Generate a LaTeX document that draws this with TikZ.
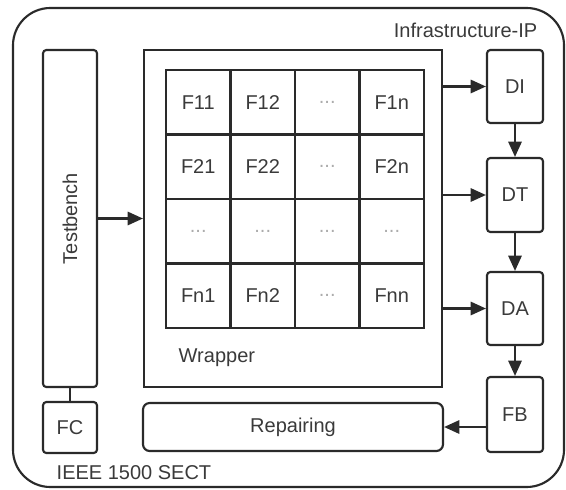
\documentclass[tikz,border=0pt]{standalone}
\usepackage{fontspec}
\setmainfont{Liberation Sans}
\usetikzlibrary{arrows.meta}
\definecolor{ln}{HTML}{2A2A2A}
\definecolor{tx}{HTML}{3A3A3A}
\newcommand{\celldots}{...}
\begin{document}
\begin{tikzpicture}[x=0.75pt,y=-0.75pt,
  every node/.style={font=\fontsize{15}{18}\selectfont, text=tx},
  blk/.style={draw=ln, line width=1.6pt, rounded corners=2.5pt, inner sep=0pt},
  cell/.style={draw=ln, line width=1.6pt, minimum width=48.375pt, minimum height=48.375pt, inner sep=0pt},
  arr/.style={draw=ln, line width=1.6pt, -{Triangle[length=11.5pt,width=10pt]}},
  conn/.style={draw=ln, line width=1.6pt},
  dotty/.style={text=gray!65}]
\useasboundingbox (0,0) rectangle (566,489);
% outer Infrastructure-IP
\node[blk, rounded corners=28pt, minimum width=413.25pt, minimum height=359.25pt] (ip) at (288.5,247.5) {};
\node[anchor=east] (iplab) at (542,30) {Infrastructure-IP};
\node[anchor=west] (sect) at (52,473) {IEEE 1500 SECT};
% Testbench and FC
\node[blk, minimum width=40.5pt, minimum height=252.75pt] (tb) at (70,218.5) {};
\node[rotate=90] (tblab) at (tb.center) {Testbench};
\node[blk, minimum width=40.5pt, minimum height=38.25pt] (fc) at (70,427.5) {FC};
% Wrapper
\node[blk, rounded corners=0pt, minimum width=223.5pt, minimum height=252.75pt] (wr) at (293,218.5) {};
\node[anchor=west] (wrlab) at (174,358) {Wrapper};
% grid
\foreach \r/\y/\a/\b/\d in {1/102.25/F11/F12/F1n, 2/166.75/F21/F22/F2n, 4/295.75/Fn1/Fn2/Fnn}{
  \node[cell] (c\r1) at (198.25,\y) {\a};
  \node[cell] (c\r2) at (262.75,\y) {\b};
  \node[cell, dotty] (c\r3) at (327.25,\y) {\celldots};
  \node[cell] (c\r4) at (391.75,\y) {\d};
}
\foreach \i/\x in {1/198.25,2/262.75,3/327.25,4/391.75}{
  \node[cell, dotty] (c3\i) at (\x,231.25) {\celldots};
}
% Repairing
\node[blk, rounded corners=5pt, minimum width=225pt, minimum height=36pt] (rep) at (293,427) {Repairing};
% right column
\node[blk, minimum width=42pt, minimum height=54.75pt] (di) at (515,86.5) {DI};
\node[blk, minimum width=42pt, minimum height=55.5pt] (dt) at (515,195) {DT};
\node[blk, minimum width=42pt, minimum height=54.75pt] (da) at (515,308.5) {DA};
\node[blk, minimum width=42pt, minimum height=56.25pt] (fb) at (515,414.5) {FB};
% connectors
\draw[conn] (tb.south) -- (fc.north);
\draw[arr] (tb.east) -- (wr.west);
\draw[arr] (wr.east |- di.west) -- (di.west);
\draw[arr] (wr.east |- dt.west) -- (dt.west);
\draw[arr] (wr.east |- da.west) -- (da.west);
\draw[arr] (di.south) -- (dt.north);
\draw[arr] (dt.south) -- (da.north);
\draw[arr] (da.south) -- (fb.north);
\draw[arr] (fb.west |- rep.east) -- (rep.east);
\end{tikzpicture}
\end{document}
